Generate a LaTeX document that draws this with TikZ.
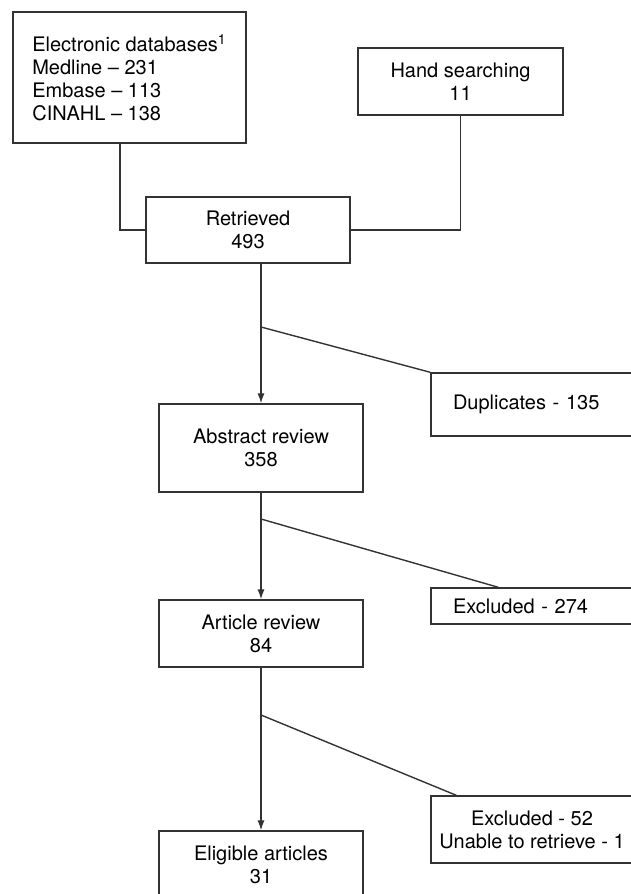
\documentclass[tikz,border=0pt]{standalone}
\usepackage{fontspec}
\setmainfont{TeX Gyre Heros}
\usetikzlibrary{arrows.meta}
\tikzset{
  box/.style={draw=black!80, line width=0.7pt, align=center, inner sep=0pt},
  sidebox/.style={box, inner xsep=11pt, text width=79pt},
  link/.style={draw=black!80, line width=0.7pt},
  flow/.style={link, -{Latex[length=5pt,width=3.6pt]}}
}
\begin{document}
\begin{tikzpicture}[x=0.5pt,y=-0.5pt,font=\fontsize{10}{11.4}\selectfont]
    \useasboundingbox (0,0) rectangle (631,894);
    % sources
    \node[box,align=left,minimum width=116.5pt,minimum height=65.5pt] (edb) at (129.5,77.5)
        {Electronic databases\textsuperscript{1}\\Medline – 231\\Embase – 113\\CINAHL – 138};
    \node[box,minimum width=102.5pt,minimum height=33.5pt] (hand) at (460.5,81.5)
        {Hand searching\\11};
    % main stages
    \node[box,minimum width=102pt,minimum height=33pt] (retr) at (248,230) {Retrieved\\493};
    \node[box,minimum width=102pt,minimum height=44pt] (abst) at (261,448) {Abstract review\\358};
    \node[box,minimum width=102pt,minimum height=33.5pt] (art) at (261,633.5) {Article review\\84};
    \node[box,minimum width=102pt,minimum height=33.5pt] (elig) at (261,864.5) {Eligible articles\\31};
    % removed records
    \node[sidebox,align=left,minimum height=31.5pt] (dup) at (532,404.5) {Duplicates - 135};
    \node[sidebox,align=left,minimum height=18pt] (exc1) at (532,606) {Excluded - 274};
    \node[box,minimum width=101pt,minimum height=33.5pt] (exc2) at (532,829.5)
        {Excluded - 52\\Unable to retrieve - 1};
    % joins
    \draw[link] ([xshift=-4.75pt]edb.south) |- (retr.west);
    \draw[link] (hand.south) |- (retr.east);
    \draw[flow] (retr.south -| abst.north) -- (abst.north);
    \draw[flow] (abst.south) -- (art.north);
    \draw[flow] (art.south) -- (elig.north);
    % branches
    \coordinate (b1) at (261,327);
    \coordinate (b2) at (261,519);
    \coordinate (b3) at (261,715);
    \draw[link] (b1) -- (dup.north west);
    \draw[link] (b2) -- ([xshift=34pt]exc1.north west);
    \draw[link] (b3) -- ([xshift=13pt]exc2.north west);
\end{tikzpicture}
\end{document}
